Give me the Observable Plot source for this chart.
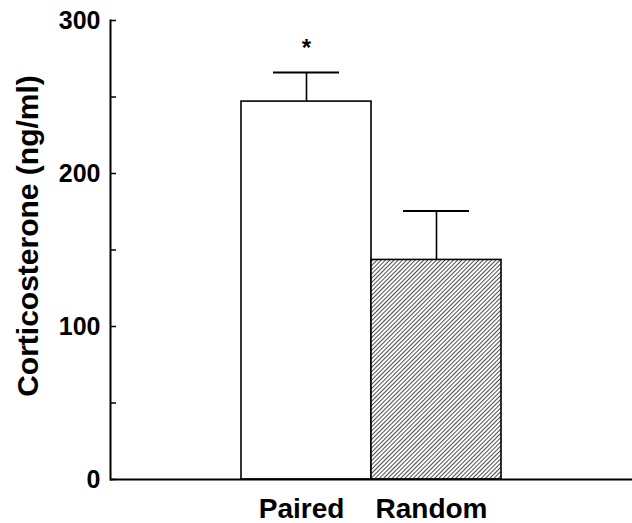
<!DOCTYPE html>
<html>
<head>
<meta charset="utf-8">
<script src="https://cdn.jsdelivr.net/npm/d3@7"></script>
<script src="https://cdn.jsdelivr.net/npm/@observablehq/plot@0.6"></script>
<style>
  html, body { margin: 0; padding: 0; background: #fff; }
  svg { display: block; }
</style>
</head>
<body>
<div id="chart"></div>
<script>
const groups = ["Paired", "Random"];
const means = [247, 143.5];
const errors = [19, 32];
const fills = ["white", "url(#hatch)"];
const significance = ["*", ""];
const yTicks = [0, 100, 200, 300];
const yMinorTicks = [0, 50, 100, 150, 200, 250, 300];

const data = groups.map((g, i) => ({
  group: g, mean: means[i], top: means[i] + errors[i], fill: fills[i], sig: significance[i]
}));

const font = "'Liberation Sans', Arial, Helvetica, sans-serif";

const chart = Plot.plot({
  width: 632,
  height: 523,
  marginLeft: 110,
  marginRight: 0,
  marginTop: 20,
  marginBottom: 44,
  style: { fontFamily: font, background: "white", color: "black" },
  x: { domain: groups, range: [240, 501], padding: 0 },
  y: { domain: [0, 300] },
  marks: [
    Plot.barY(data, { x: "group", y: "mean", fill: "fill", stroke: "black", strokeWidth: 1.6 }),
    Plot.ruleX(data, { x: "group", y1: "mean", y2: "top", stroke: "black", strokeWidth: 1.6 }),
    Plot.tickY(data, { x: "group", y: "top", stroke: "black", strokeWidth: 2.2, insetLeft: 32, insetRight: 32 }),
    Plot.text(data, { x: "group", y: "top", text: "sig", dy: -24, fontSize: 24, fontWeight: "bold", fill: "black" }),
    Plot.frame({ anchor: "left", stroke: "black", strokeWidth: 2 }),
    Plot.ruleY([0], { stroke: "black", strokeWidth: 2 }),
    Plot.axisY({ ticks: yMinorTicks, tickSize: -6, text: null, label: null, stroke: "black", strokeWidth: 1.5 }),
    Plot.axisY({ ticks: yTicks, tickSize: 0, tickPadding: 10, label: null, fontSize: 25, fontWeight: "bold", fill: "black" }),
    Plot.axisX({ tickSize: 0, tickPadding: 19, label: null, fontSize: 28, fontWeight: "bold", fill: "black", dx: -5 }),
    Plot.text(["Corticosterone (ng/ml)"], { frameAnchor: "left", text: d => d, rotate: -90, textAnchor: "middle", dx: -82, dy: -14, fontSize: 30, fontWeight: "bold", fill: "black" })
  ]
});

const defs = d3.select(chart).insert("defs", ":first-child");
const pat = defs.append("pattern")
  .attr("id", "hatch")
  .attr("patternUnits", "userSpaceOnUse")
  .attr("width", 3)
  .attr("height", 3)
  .attr("patternTransform", "rotate(45)");
pat.append("rect").attr("width", 3).attr("height", 3).attr("fill", "white");
pat.append("line").attr("x1", 0).attr("y1", 0).attr("x2", 0).attr("y2", 3)
  .attr("stroke", "black").attr("stroke-width", 1.4);

document.getElementById("chart").append(chart);
</script>
</body>
</html>
